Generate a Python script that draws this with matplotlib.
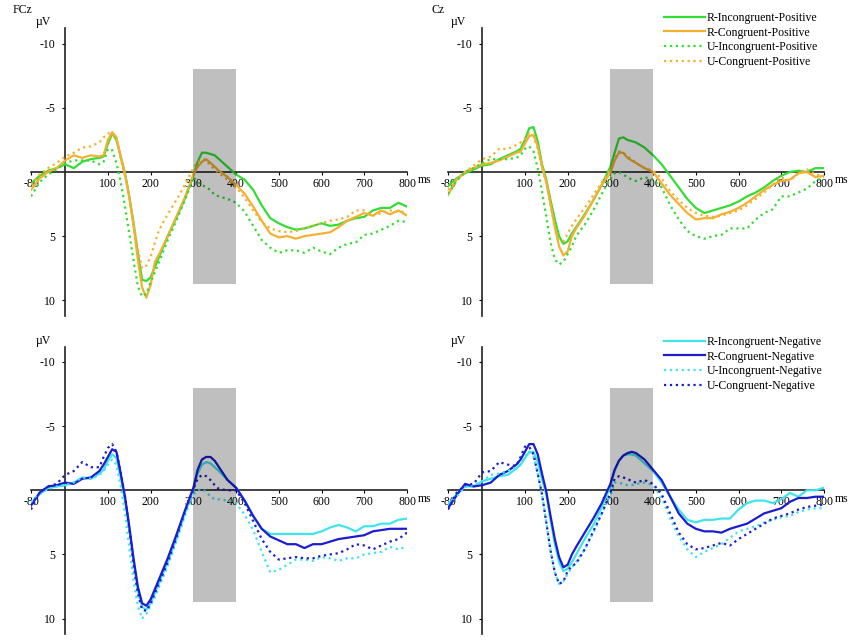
import matplotlib
matplotlib.use('Agg')
import matplotlib.pyplot as plt
from matplotlib.patches import Rectangle

plt.rcParams['font.family'] = ['Liberation Serif', 'DejaVu Serif']
plt.rcParams['font.size'] = 8.5

# time points (ms) shared by all waveforms
ms = [-80, -60, -40, -20, 0, 20, 40, 60, 80,
      90, 100, 110, 120, 130, 140, 150, 160, 170, 180, 190, 200, 210, 220,
      240, 260, 280,
      300, 310, 320, 330, 340, 350, 360,
      380, 400, 420, 440, 460, 480, 500, 520, 540, 560, 580, 600, 620, 640,
      660, 680, 700, 720, 740, 760, 780, 800]

# FCz, positive condition (uV)
fcz_pos_r_inc = [0.9, 0.3, -0.1, -0.3, -0.6, -0.3, -0.8, -1.0, -1.1,
                 -1.2, -2.2, -3.0, -2.5, -1.2, 0.1, 1.9, 4.0, 6.3, 8.4, 8.5, 8.2, 7.4, 6.6,
                 5.0, 3.6, 2.1,
                 0.3, -0.8, -1.5, -1.5, -1.4, -1.3, -1.0,
                 -0.4, 0.2, 0.6, 1.4, 2.6, 3.6, 4.0, 4.3, 4.5, 4.4, 4.2, 4.0, 4.2, 4.1,
                 3.8, 3.6, 3.5, 3.0, 2.8, 2.8, 2.4, 2.7]
fcz_pos_r_con = [1.4, 0.5, 0.0, -0.3, -0.9, -1.3, -1.1, -1.3, -1.2,
                 -1.3, -2.5, -3.1, -2.7, -1.2, 0.2, 2.0, 4.2, 6.8, 9.0, 9.8, 8.8, 7.0, 6.4,
                 5.0, 3.5, 2.0,
                 0.2, -0.4, -0.8, -1.0, -0.7, -0.4, -0.1,
                 0.4, 1.0, 1.7, 2.7, 3.8, 4.8, 5.1, 5.0, 5.2, 5.0, 4.9, 4.8, 4.7, 4.3,
                 3.8, 3.5, 3.2, 3.4, 3.0, 3.3, 3.0, 3.4]
fcz_pos_u_inc = [1.9, 0.8, 0.2, -0.2, -0.7, -0.9, -0.9, -0.9, -0.6,
                 -0.8, -1.8, -1.7, -0.7, 0.8, 2.7, 4.8, 6.9, 8.9, 9.7, 9.5, 8.6, 7.8, 7.0,
                 5.3, 3.8, 2.2,
                 0.4, 0.8, 1.0, 1.2, 1.4, 1.8, 1.9,
                 2.1, 2.4, 3.1, 4.2, 5.3, 5.9, 6.3, 6.1, 6.1, 6.3, 5.9, 6.2, 6.4, 5.9,
                 5.6, 5.5, 4.9, 4.8, 4.5, 4.2, 3.8, 3.9]
fcz_pos_u_con = [1.0, 0.2, -0.3, -0.7, -1.2, -1.5, -1.9, -2.0, -2.3,
                 -2.7, -3.0, -3.0, -2.6, -1.0, 0.3, 2.0, 4.0, 6.0, 7.5, 7.3, 6.6, 5.5, 4.5,
                 3.3, 2.2, 1.0,
                 -0.3, -0.8, -1.0, -0.9, -0.5, -0.2, 0.1,
                 0.6, 1.2, 2.0, 3.0, 3.9, 4.4, 4.6, 4.7, 4.6, 4.4, 4.2, 4.0, 3.8, 3.7,
                 3.5, 3.0, 3.0, 3.4, 3.2, 3.0, 3.1, 3.1]

# Cz, positive condition
cz_pos_r_inc = [1.1, 0.5, 0.1, -0.2, -0.5, -0.6, -1.0, -1.3, -1.6,
                -1.8, -2.5, -3.4, -3.5, -2.4, -0.6, 0.6, 2.2, 3.7, 5.0, 5.6, 5.4, 4.8, 4.3,
                3.3, 2.2, 1.0,
                -0.4, -1.5, -2.6, -2.7, -2.5, -2.4, -2.3,
                -1.9, -1.3, -0.6, 0.3, 1.2, 2.1, 2.8, 3.2, 3.0, 2.8, 2.6, 2.3, 1.9, 1.6,
                1.2, 0.7, 0.3, 0.0, -0.1, 0.0, -0.3, -0.3]
cz_pos_r_con = [1.8, 0.6, 0.0, -0.3, -0.6, -0.7, -0.9, -1.2, -1.5,
                -1.6, -2.2, -2.8, -2.9, -2.0, -0.4, 0.8, 2.5, 4.3, 5.8, 6.5, 6.2, 5.0, 4.4,
                3.4, 2.2, 1.0,
                0.1, -0.9, -1.5, -1.5, -1.1, -0.9, -0.7,
                -0.3, 0.0, 0.9, 1.8, 2.5, 3.2, 3.7, 3.6, 3.6, 3.3, 3.1, 2.8, 2.4, 1.9,
                1.4, 1.0, 0.7, 0.6, 0.1, 0.0, 0.4, 0.3]
cz_pos_u_inc = [1.7, 0.7, 0.0, -0.3, -0.7, -1.0, -1.0, -1.0, -1.1,
                -1.3, -1.8, -2.0, -1.6, -0.3, 1.5, 3.5, 5.5, 6.8, 7.2, 7.0, 6.4, 5.8, 5.0,
                4.1, 3.0, 1.7,
                0.5, 0.1, 0.0, 0.2, 0.4, 0.6, 0.7,
                0.4, 0.6, 1.2, 2.6, 3.7, 4.6, 5.0, 5.2, 5.0, 4.9, 4.4, 4.4, 4.4, 3.7,
                3.2, 2.9, 1.9, 1.9, 1.6, 1.3, 0.7, 0.4]
cz_pos_u_con = [1.4, 0.6, 0.0, -0.5, -1.0, -1.2, -1.8, -1.8, -2.1,
                -2.3, -2.6, -3.0, -2.8, -1.8, -0.3, 0.8, 2.6, 4.2, 5.3, 5.4, 4.8, 4.2, 3.7,
                2.8, 1.8, 0.8,
                -0.2, -1.0, -1.6, -1.5, -1.2, -1.0, -0.7,
                -0.3, -0.1, 0.5, 1.5, 2.2, 2.8, 3.2, 3.4, 3.5, 3.4, 3.2, 3.0, 2.6, 2.1,
                1.6, 1.0, 0.4, 0.7, 0.1, -0.2, 0.2, 0.3]

# FCz, negative condition
fcz_neg_r_inc = [1.0, 0.3, -0.2, -0.3, -0.4, -0.6, -1.0, -0.9, -1.3,
                 -1.6, -2.3, -2.8, -2.5, -1.0, 0.8, 3.0, 5.5, 7.8, 9.1, 9.3, 8.8, 8.0, 7.2,
                 5.6, 3.8, 1.8,
                 0.0, -1.3, -2.0, -2.2, -2.1, -1.8, -1.5,
                 -0.8, -0.2, 0.8, 2.0, 3.0, 3.4, 3.4, 3.4, 3.4, 3.4, 3.4, 3.2, 2.9, 2.7,
                 2.9, 3.2, 2.8, 2.8, 2.6, 2.6, 2.3, 2.2]
fcz_neg_r_con = [1.2, 0.2, -0.3, -0.4, -0.6, -0.5, -0.9, -1.0, -1.5,
                 -2.0, -2.6, -3.2, -3.0, -1.3, 0.5, 2.8, 5.3, 7.5, 8.8, 9.0, 8.5, 7.7, 6.9,
                 5.3, 3.5, 1.6,
                 -0.2, -1.6, -2.4, -2.6, -2.6, -2.3, -1.8,
                 -0.8, -0.2, 0.8, 2.0, 3.0, 3.6, 3.9, 4.2, 4.2, 4.5, 4.2, 4.2, 4.0, 3.8,
                 3.7, 3.6, 3.5, 3.2, 3.1, 3.0, 3.0, 3.0]
fcz_neg_u_inc = [0.9, 0.3, -0.1, -0.3, -0.4, -0.6, -1.0, -0.9, -1.2,
                 -1.5, -2.0, -2.4, -2.0, -0.3, 1.8, 4.5, 7.0, 9.0, 10.0, 9.6, 9.0, 8.3, 7.5,
                 5.9, 4.0, 2.0,
                 0.3, 0.0, -0.1, 0.1, 0.5, 0.7, 0.7,
                 0.8, 1.0, 1.9, 3.1, 4.8, 6.4, 6.2, 5.8, 5.4, 5.4, 5.5, 5.2, 5.3, 5.5,
                 5.3, 5.3, 5.0, 4.9, 4.8, 4.4, 4.6, 4.4]
fcz_neg_u_con = [1.5, 0.2, -0.3, -0.5, -1.2, -1.5, -2.2, -1.8, -1.8,
                 -2.6, -3.3, -3.6, -3.0, -1.4, 0.5, 3.0, 5.8, 8.0, 9.3, 9.4, 8.8, 8.0, 7.2,
                 5.6, 3.7, 1.7,
                 -0.1, -0.9, -1.2, -1.1, -0.8, -0.4, -0.1,
                 0.0, 0.0, 1.0, 2.4, 3.8, 4.8, 5.4, 5.3, 5.2, 5.3, 5.3, 5.1, 5.0, 4.9,
                 4.6, 4.2, 4.3, 4.6, 4.3, 4.0, 3.8, 3.3]

# Cz, negative condition
cz_neg_r_inc = [1.2, 0.3, -0.3, -0.3, -0.7, -0.9, -1.1, -1.2, -1.7,
                -2.0, -2.5, -3.0, -3.0, -2.2, -0.9, 0.3, 2.3, 4.2, 5.6, 6.3, 6.1, 5.6, 5.0,
                3.8, 2.7, 1.3,
                -0.3, -1.5, -2.3, -2.7, -2.8, -2.8, -2.7,
                -2.1, -1.5, -0.6, 0.5, 1.5, 2.3, 2.5, 2.3, 2.3, 2.2, 2.2, 1.5, 1.0, 0.8,
                0.8, 1.0, 0.7, 0.2, 0.5, 0.0, 0.0, -0.2]
cz_neg_r_con = [1.4, 0.4, -0.5, -0.3, -0.4, -0.6, -1.2, -1.5, -2.0,
                -2.4, -3.0, -3.6, -3.6, -2.8, -1.3, 0.1, 2.0, 3.8, 5.2, 6.0, 5.8, 5.0, 4.4,
                3.3, 2.2, 1.0,
                -0.5, -1.6, -2.3, -2.7, -2.9, -3.0, -2.9,
                -2.4, -1.6, -0.8, 0.5, 1.8, 2.6, 3.0, 3.2, 3.2, 3.3, 3.0, 2.8, 2.6, 2.2,
                1.8, 1.6, 1.4, 0.9, 0.6, 0.6, 0.5, 0.5]
cz_neg_u_inc = [1.0, 0.5, -0.3, -0.4, -0.7, -1.2, -1.3, -1.5, -1.8,
                -2.0, -2.6, -3.0, -2.7, -1.3, 0.3, 2.5, 4.7, 6.4, 7.3, 7.1, 6.5, 6.0, 5.6,
                4.6, 3.3, 1.8,
                0.4, -0.6, -0.6, -0.5, -0.4, -0.4, -0.5,
                -0.6, -0.4, 0.6, 2.2, 3.6, 4.6, 5.2, 4.8, 4.5, 4.2, 3.7, 3.2, 3.0, 2.8,
                2.5, 2.3, 2.1, 2.0, 1.7, 1.5, 1.4, 1.4]
cz_neg_u_con = [1.5, 0.2, -0.4, -0.5, -1.4, -1.5, -2.2, -2.0, -1.9,
                -2.6, -3.4, -3.4, -2.8, -1.3, 0.3, 2.5, 4.7, 6.4, 7.3, 7.1, 6.3, 5.9, 5.7,
                4.6, 3.2, 1.8,
                0.2, -0.9, -1.1, -1.0, -0.9, -0.7, -0.6,
                -0.8, -0.5, 0.3, 1.8, 3.3, 4.2, 4.6, 4.5, 4.3, 4.1, 4.3, 3.8, 3.4, 3.0,
                2.6, 2.2, 2.0, 1.8, 1.5, 1.3, 1.2, 1.1]

pos_labels = ['R-Incongruent-Positive', 'R-Congruent-Positive',
              'U-Incongruent-Positive', 'U-Congruent-Positive']
neg_labels = ['R-Incongruent-Negative', 'R-Congruent-Negative',
              'U-Incongruent-Negative', 'U-Congruent-Negative']

x_ticks = [-80, 100, 200, 300, 400, 500, 600, 700, 800]
y_ticks = [-10, -5, 5, 10]
window_ms = (300, 400)
window_uv = (-8.0, 8.7)

green = '#33dd33'
orange = '#f4b030'
cyan = '#40e4ee'
blue = '#1c1cd0'

fig = plt.figure(figsize=(8.5, 6.41), dpi=100)


def panel(rect, series, colors, labels):
    ax = fig.add_axes(rect)
    # translucent dark window over the traces (darkens whatever lies beneath)
    ax.add_patch(Rectangle((window_ms[0], window_uv[0]), window_ms[1] - window_ms[0],
                           window_uv[1] - window_uv[0], facecolor='black', alpha=0.25,
                           edgecolor='none', zorder=4))
    handles = []
    for i, (vals, col, lab) in enumerate(zip(series, colors, labels)):
        assert len(vals) == len(ms)
        ls = '-' if i < 2 else ':'
        h, = ax.plot(ms, vals, color=col, lw=1.6, ls=ls, label=lab, zorder=3)
        handles.append(h)
    ax.set_xlim(-80, 800)
    ax.set_ylim(11.2, -11.2)
    for s in ['top', 'right']:
        ax.spines[s].set_visible(False)
    ax.spines['left'].set_position(('data', 0))
    ax.spines['bottom'].set_position(('data', 0))
    ax.spines['left'].set_linewidth(1.2)
    ax.spines['bottom'].set_linewidth(1.2)
    ax.spines['left'].set_color('#222222')
    ax.spines['bottom'].set_color('#222222')
    ax.set_xticks(x_ticks)
    ax.set_xticklabels([str(t) for t in x_ticks])
    ax.set_yticks(y_ticks)
    ax.set_yticklabels([str(t) for t in y_ticks])
    ax.tick_params(axis='x', length=2, pad=2, direction='out')
    ax.tick_params(axis='y', length=2, pad=5, direction='out')
    ax.patch.set_visible(False)
    ax.annotate('ms', xy=(800, 0), xycoords='data', xytext=(8, -6),
                textcoords='offset points', ha='left', va='center')
    return handles


h_fp = panel([31 / 850, 0.5075, 376 / 850, 0.4484],
             [fcz_pos_r_inc, fcz_pos_r_con, fcz_pos_u_inc, fcz_pos_u_con],
             [green, orange, green, orange], pos_labels)
h_cp = panel([448 / 850, 0.5075, 376 / 850, 0.4484],
             [cz_pos_r_inc, cz_pos_r_con, cz_pos_u_inc, cz_pos_u_con],
             [green, orange, green, orange], pos_labels)
h_fn = panel([31 / 850, 0.0109, 376 / 850, 0.4484],
             [fcz_neg_r_inc, fcz_neg_r_con, fcz_neg_u_inc, fcz_neg_u_con],
             [cyan, blue, cyan, blue], neg_labels)
h_cn = panel([448 / 850, 0.0109, 376 / 850, 0.4484],
             [cz_neg_r_inc, cz_neg_r_con, cz_neg_u_inc, cz_neg_u_con],
             [cyan, blue, cyan, blue], neg_labels)

fig.text(13 / 850, 1 - 10 / 641, 'FCz', ha='left', va='center')
fig.text(431 / 850, 1 - 10 / 641, 'Cz', ha='left', va='center')
for xp in (43, 458):
    fig.text(xp / 850, 1 - 22 / 641, 'µV', ha='center', va='center')
    fig.text(xp / 850, 1 - 341 / 641, 'µV', ha='center', va='center')

for hs, ytop in ((h_cp, 12), (h_cn, 336)):
    fig.legend(handles=hs, loc='upper left', bbox_to_anchor=(664 / 850, 1 - ytop / 641),
               frameon=False, borderpad=0, borderaxespad=0, handlelength=3.5,
               handletextpad=0.1, labelspacing=0.22)

fig.savefig('out.png', dpi=100)
